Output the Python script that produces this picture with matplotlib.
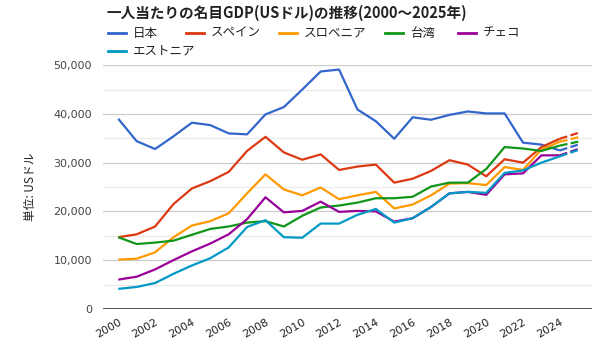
import numpy as np
import matplotlib
matplotlib.use("Agg")
import matplotlib.pyplot as plt
from matplotlib.lines import Line2D
from matplotlib.ticker import FuncFormatter, MultipleLocator

plt.rcParams['font.family'] = ['Noto Sans CJK JP', 'DejaVu Sans']

# ── data ─────────────────────────────────────────────────────────────────────
years = list(range(2000, 2026))
names = ["日本", "スペイン", "スロベニア", "台湾", "チェコ", "エストニア"]
colors = ["#3366cc", "#dc3912", "#ff9900", "#109618", "#990099", "#0099c6"]

japan = [39000, 34400, 32800, 35400, 38200, 37700, 36000, 35800, 39900, 41400,
         45000, 48700, 49100, 40900, 38500, 34900, 39300, 38800, 39800, 40500,
         40100, 40100, 34100, 33700, 32500, 33700]
spain = [14700, 15300, 16900, 21500, 24700, 26200, 28100, 32400, 35300, 32100,
         30600, 31700, 28500, 29200, 29600, 25900, 26700, 28300, 30500, 29600,
         27200, 30700, 30000, 33200, 34900, 36100]
slovenia = [10100, 10300, 11600, 14700, 17100, 18000, 19600, 23700, 27600, 24500,
            23300, 24900, 22500, 23300, 24000, 20600, 21400, 23300, 25700, 25800,
            25400, 29100, 28500, 32700, 34300, 35200]
taiwan = [14700, 13300, 13600, 14000, 15200, 16400, 16900, 17700, 18000, 16900,
          19100, 20800, 21200, 21800, 22700, 22700, 23000, 25100, 25900, 25900,
          28700, 33200, 32900, 32400, 33500, 34300]
czech = [6000, 6600, 8100, 10000, 11800, 13400, 15300, 18400, 22900, 19800,
         20100, 22000, 19900, 20100, 20000, 17900, 18600, 20900, 23700, 24000,
         23400, 27600, 27800, 31500, 31500, 32800]
estonia = [4100, 4500, 5300, 7200, 8900, 10400, 12600, 16800, 18200, 14700,
           14600, 17500, 17500, 19300, 20500, 17700, 18600, 20900, 23700, 24000,
           23800, 27900, 28400, 30000, 31300, 32600]
series = [japan, spain, slovenia, taiwan, czech, estonia]
est_from = 2024  # last segment is an estimate (dashed)

# ── plot ─────────────────────────────────────────────────────────────────────
fig = plt.figure(figsize=(6, 3.6), dpi=100)
ax = fig.add_axes([0.172, 0.142, 0.815, 0.677])

x = np.array(years)
k = years.index(est_from)
for vals, c in zip(series, colors):
    v = np.array(vals)
    ax.plot(x[:k + 1], v[:k + 1], color=c, lw=1.6, solid_capstyle="butt", zorder=3)
    ax.plot(x[k:], v[k:], color=c, lw=1.6, ls=(0, (3.5, 1.5)), zorder=3)

ax.set_xlim(1999.18, 2025.76)
ax.set_ylim(0, 50000)
ax.yaxis.set_major_locator(MultipleLocator(10000))
ax.yaxis.set_minor_locator(MultipleLocator(5000))
ax.yaxis.set_major_formatter(FuncFormatter(lambda v, p: f"{int(v):,}"))
ax.grid(True, which="major", axis="y", color="#cccccc", lw=0.9)
ax.grid(True, which="minor", axis="y", color="#ebebeb", lw=0.9)
ax.set_axisbelow(True)
ax.axhline(0, color="#333333", lw=1.2, zorder=4)
for s in ax.spines.values():
    s.set_visible(False)
ax.tick_params(axis="both", which="both", length=0, colors="#444444")
ax.tick_params(axis="y", pad=8)
ax.tick_params(axis="x", pad=6)
for lab in ax.get_yticklabels():
    lab.set_family("DejaVu Sans")
    lab.set_fontsize(8)
ax.set_xticks(years[::2])
ax.set_xticklabels([str(y) for y in years[::2]], rotation=30, ha="right", va="top",
                   rotation_mode="anchor", fontsize=8, family="DejaVu Sans",
                   color="#222222")
ax.set_ylabel("単位: USドル", fontsize=8.5, color="#222222", labelpad=12)

fig.text(0.178, 0.965, "一人当たりの名目GDP(USドル)の推移(2000～2025年)",
         fontsize=10.5, fontweight="bold", color="#222222", va="center")

# legend laid out like the reference (two rows)
leg_pos = [(0.180, 0.908), (0.310, 0.908), (0.465, 0.908), (0.642, 0.908),
           (0.763, 0.908), (0.180, 0.858)]
for (lx, ly), name, c in zip(leg_pos, names, colors):
    fig.add_artist(Line2D([lx, lx + 0.030], [ly, ly], color=c, lw=2,
                          transform=fig.transFigure))
    fig.text(lx + 0.042, ly, name, fontsize=9, color="#222222", va="center")

fig.savefig("out.png", dpi=100)
